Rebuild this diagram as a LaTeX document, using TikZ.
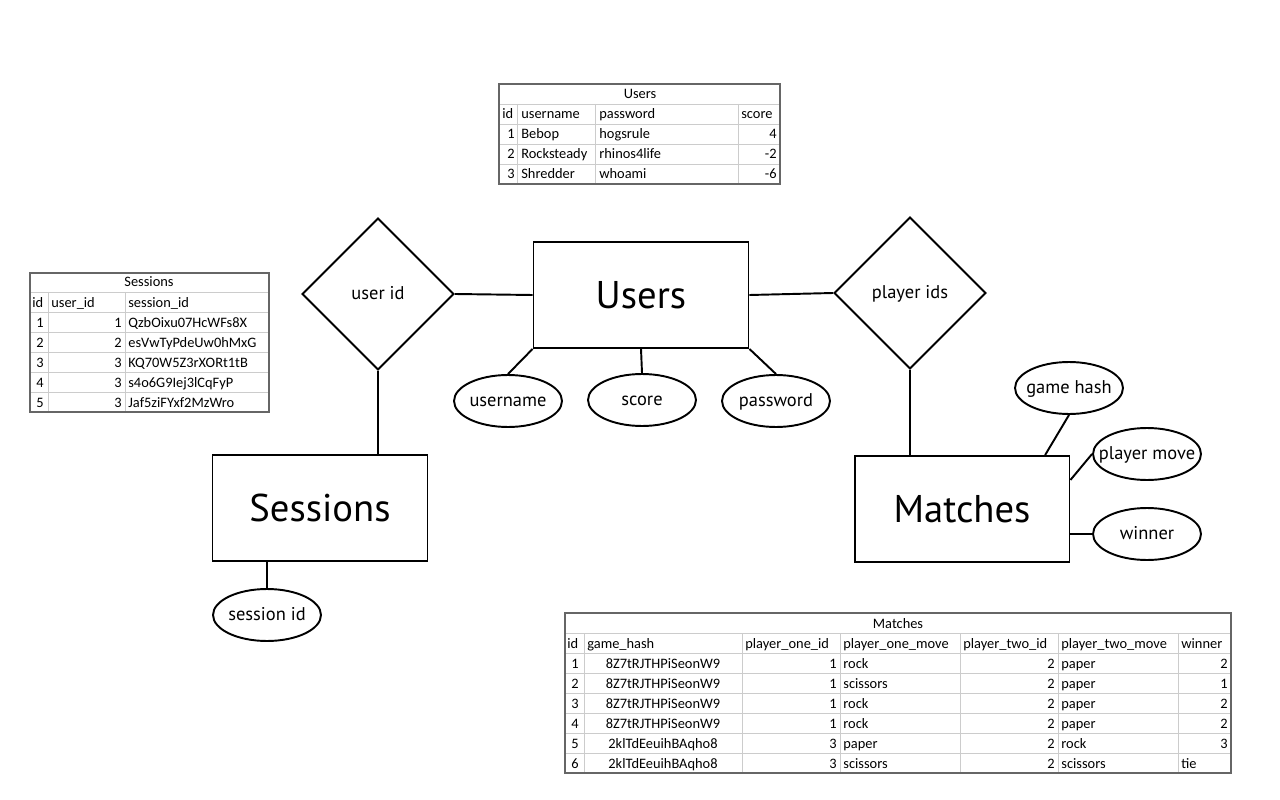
\documentclass[tikz,border=0pt]{standalone}
\usepackage{fontspec}
\setmainfont{PT Sans}
\newfontfamily\tabfont{Carlito}
\usetikzlibrary{shapes.geometric}

\begin{document}
\begin{tikzpicture}[x=0.02cm,y=-0.02cm,
  entity/.style={draw,line width=1.1pt,minimum width=4.3cm,minimum height=2.12cm,font=\fontsize{22}{26}\selectfont},
  relation/.style={draw,line width=1.1pt,diamond,aspect=1,minimum size=3.04cm,inner sep=0pt,
    text height=1.5ex,text depth=0.3ex,font=\fontsize{10.5}{12}\selectfont},
  attr/.style={draw,line width=1.1pt,ellipse,minimum width=2.16cm,minimum height=1.04cm,inner sep=0pt,
    label={[font=\fontsize{10.5}{12}\selectfont,text height=1.5ex,text depth=0.3ex]center:#1}},
  link/.style={line width=1.1pt},
  tabframe/.style={black!60,line width=0.8pt},
  gridln/.style={black!20,line width=0.5pt},
  tabtxt/.style={inner sep=0pt,font=\tabfont\fontsize{8.2}{9}\selectfont},
  cellr/.style={tabtxt,anchor=base east},
  celll/.style={tabtxt,anchor=base west},
  cellc/.style={tabtxt,anchor=base}]
\useasboundingbox (0,0) rectangle (1280,800);

% ER diagram
\node[entity] (users) at (641,295) {Users};
\node[entity] (sessions) at (320,508) {Sessions};
\node[entity] (matches) at (962,509) {Matches};
\node[relation] (userid) at (378,294) {user id};
\node[relation] (playerids) at (910,293) {player ids};
\node[attr=username] (username) at (508,401) {};
\node[attr=score] (score) at (642,400) {};
\node[attr=password] (password) at (776,401) {};
\node[attr=game hash] (gamehash) at (1069,388) {};
\node[attr=player move] (move) at (1147,454) {};
\node[attr=winner] (winner) at (1147,534) {};
\node[attr=session id] (sessionid) at (267,615) {};

\draw[link] (userid.east) -- (users.west);
\draw[link] (users.east) -- (playerids.west);
\draw[link] (userid.south) -- (userid.south |- sessions.north);
\draw[link] (playerids.south) -- (playerids.south |- matches.north);
\draw[link] (users.south west) -- (username.north);
\draw[link] (users.south) -- (score.north);
\draw[link] (users.south east) -- (password.north);
\draw[link] (matches.33) -- (gamehash.south);
\draw[link] (matches.15) -- (move.west);
\draw[link] (winner.west -| matches.east) -- (winner.west);
\draw[link] (sessionid.north |- sessions.south) -- (sessionid.north);

% Users table
\foreach \y in {104,124,144,164} \draw[gridln] (499,\y) -- (780,\y);
\foreach \x in {517,595,738} \draw[gridln] (\x,104) -- (\x,184);
\draw[tabframe] (499,84) rectangle (780,184);
\node[cellc] (ut) at (640,99) {Users};
\node[celll] (uh1) at (502,119) {id};
\node[celll] (uh2) at (521,119) {username};
\node[celll] (uh3) at (599,119) {password};
\node[celll] (uh4) at (741,119) {score};
\foreach \i/\n/\p/\s [count=\r] in {1/Bebop/hogsrule/4,2/Rocksteady/rhinos4life/-2,3/Shredder/whoami/-6}{
  \node[cellr] (uid\r) at (515,119+20*\r) {\i};
  \node[celll] (uname\r) at (521,119+20*\r) {\n};
  \node[celll] (upass\r) at (599,119+20*\r) {\p};
  \node[cellr] (uscore\r) at (777,119+20*\r) {\s};
}

% Sessions table
\foreach \y in {292,312,332,352,372,392} \draw[gridln] (30,\y) -- (269,\y);
\foreach \x in {48,125} \draw[gridln] (\x,292) -- (\x,412);
\draw[tabframe] (30,273) rectangle (269,412);
\node[cellc] (st) at (149,287) {Sessions};
\node[celll] (sh1) at (32,307) {id};
\node[celll] (sh2) at (51,307) {user\_id};
\node[celll] (sh3) at (128,307) {session\_id};
\foreach \u/\k [count=\r] in {1/QzbOixu07HcWFs8X,2/esVwTyPdeUw0hMxG,3/KQ70W5Z3rXORt1tB,3/s4o6G9Iej3lCqFyP,3/Jaf5ziFYxf2MzWro}{
  \node[cellc] (sid\r) at (40,307+20*\r) {\r};
  \node[cellr] (suser\r) at (122,307+20*\r) {\u};
  \node[celll] (skey\r) at (128,307+20*\r) {\k};
}

% Matches table
\foreach \y in {633,653,673,693,713,733,753} \draw[gridln] (565,\y) -- (1231,\y);
\foreach \x in {584,742,840,960,1058,1178} \draw[gridln] (\x,633) -- (\x,773);
\draw[tabframe] (565,613) rectangle (1231,773);
\node[cellc] (mt) at (898,628) {Matches};
\node[celll] (mh1) at (567,648) {id};
\node[celll] (mh2) at (587,648) {game\_hash};
\node[celll] (mh3) at (745,648) {player\_one\_id};
\node[celll] (mh4) at (843,648) {player\_one\_move};
\node[celll] (mh5) at (963,648) {player\_two\_id};
\node[celll] (mh6) at (1061,648) {player\_two\_move};
\node[celll] (mh7) at (1181,648) {winner};
\foreach \h/\a/\ma/\b/\mb/\w/\wx/\wa [count=\r] in {
    8Z7tRJTHPiSeonW9/1/rock/2/paper/2/1228/base east,
    8Z7tRJTHPiSeonW9/1/scissors/2/paper/1/1228/base east,
    8Z7tRJTHPiSeonW9/1/rock/2/paper/2/1228/base east,
    8Z7tRJTHPiSeonW9/1/rock/2/paper/2/1228/base east,
    2klTdEeuihBAqho8/3/paper/2/rock/3/1228/base east,
    2klTdEeuihBAqho8/3/scissors/2/scissors/tie/1181/base west}{
  \node[cellc] (mid\r) at (575,648+20*\r) {\r};
  \node[cellc] (mhash\r) at (663,648+20*\r) {\h};
  \node[cellr] (mone\r) at (837,648+20*\r) {\a};
  \node[celll] (monem\r) at (843,648+20*\r) {\ma};
  \node[cellr] (mtwo\r) at (1055,648+20*\r) {\b};
  \node[celll] (mtwom\r) at (1061,648+20*\r) {\mb};
  \node[tabtxt,anchor=\wa] (mwin\r) at (\wx,648+20*\r) {\w};
}
\end{tikzpicture}
\end{document}
